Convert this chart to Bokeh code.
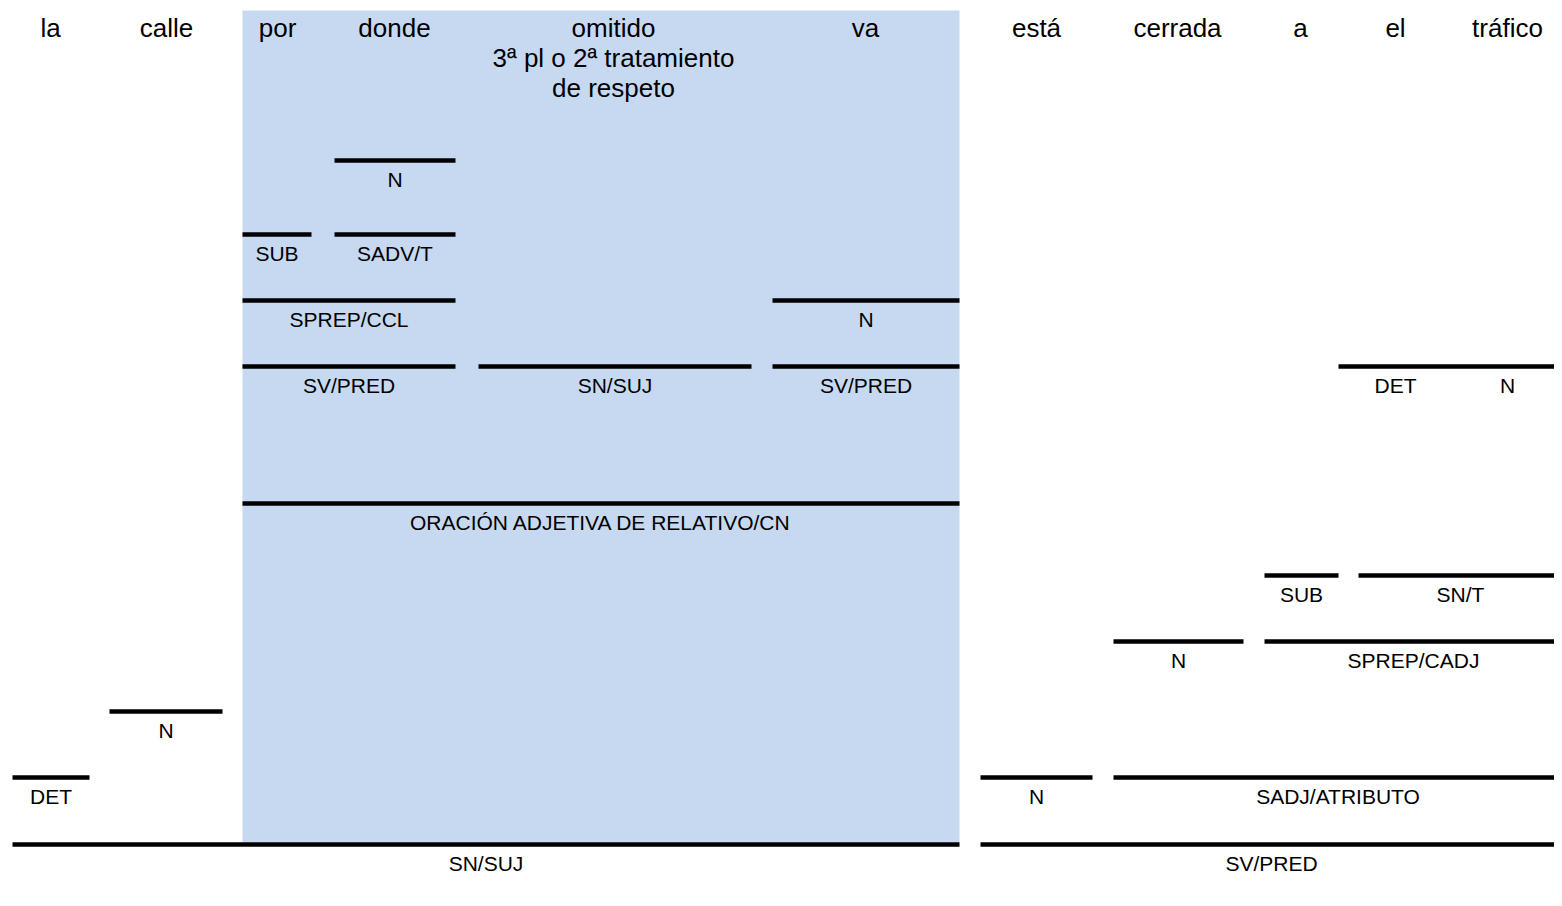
from bokeh.plotting import figure
from bokeh.models import Range1d
from bokeh.core.properties import value
from bokeh.embed import file_html
from bokeh.resources import INLINE

# Words of the sentence (top row)
words = ["la", "calle", "por", "donde", "omitido\n3ª pl o 2ª tratamiento\nde respeto", "va",
         "está", "cerrada", "a", "el", "tráfico"]
word_x = [50, 166, 277, 394, 613, 865, 1036, 1177, 1300, 1395, 1507]

# Constituent bars (tree lines) and their labels
bar_labels = ["N", "SUB", "SADV/T", "SPREP/CCL", "N", "SV/PRED", "SN/SUJ", "SV/PRED",
              "DET|N", "ORACIÓN ADJETIVA DE RELATIVO/CN", "SUB", "SN/T", "N",
              "SPREP/CADJ", "N", "DET", "N", "SADJ/ATRIBUTO", "SN/SUJ", "SV/PRED"]
bar_x0 = [334, 242, 334, 242, 772, 242, 478, 772, 1338, 242, 1264, 1358, 1113,
          1264, 109, 12, 980, 1113, 12, 980]
bar_x1 = [455, 311, 455, 455, 959, 455, 751, 959, 1562, 959, 1338, 1562, 1243,
          1562, 222, 89, 1092, 1562, 959, 1562]
bar_y = [160, 234, 234, 300, 300, 366, 366, 366, 366, 503, 575, 575, 641,
         641, 711, 777, 777, 777, 844, 844]
# label positions for the shared "DET N" bar (under "el" and "tráfico")
split_label_x = [1395, 1507]

# Highlighted region: relative clause
box_left, box_right, box_top, box_bottom = 242, 959, 10, 842

W, H = 1554, 898
p = figure(width=W, height=H, output_backend="svg", toolbar_location=None,
           x_range=Range1d(0, W), y_range=Range1d(H, 0),
           min_border=0, outline_line_color=None)
p.axis.visible = False
p.grid.visible = False
p.background_fill_color = "white"

p.quad(left=[box_left], right=[box_right], top=[box_top], bottom=[box_bottom],
       fill_color="#c6d9f0", line_color=None)

p.segment(x0=bar_x0, y0=bar_y, x1=bar_x1, y1=bar_y, line_color="black",
          line_width=4.5, line_cap="butt")

# Word texts (multi-line split manually)
wx, wy, wt = [], [], []
for w, x in zip(words, word_x):
    for i, line in enumerate(w.split("\n")):
        wx.append(x); wy.append(27 + 30 * i); wt.append(line)
p.text(x=wx, y=wy, text=wt, text_align="center", text_baseline="alphabetic",
       text_font=value("Liberation Sans"), text_font_size="26px", text_color="black")

# Labels under bars
lx, ly, lt = [], [], []
for lab, a, b, y in zip(bar_labels, bar_x0, bar_x1, bar_y):
    parts = lab.split("|")
    if len(parts) > 1:
        for t, x in zip(parts, split_label_x):
            lx.append(x); ly.append(y + 19); lt.append(t)
        continue
    lx.append((a + b) / 2); ly.append(y + 19); lt.append(lab)
p.text(x=lx, y=ly, text=lt, text_align="center", text_baseline="alphabetic",
       text_font=value("Liberation Sans"), text_font_size="21px", text_color="black")

open("out.html", "w").write(file_html(p, INLINE))
